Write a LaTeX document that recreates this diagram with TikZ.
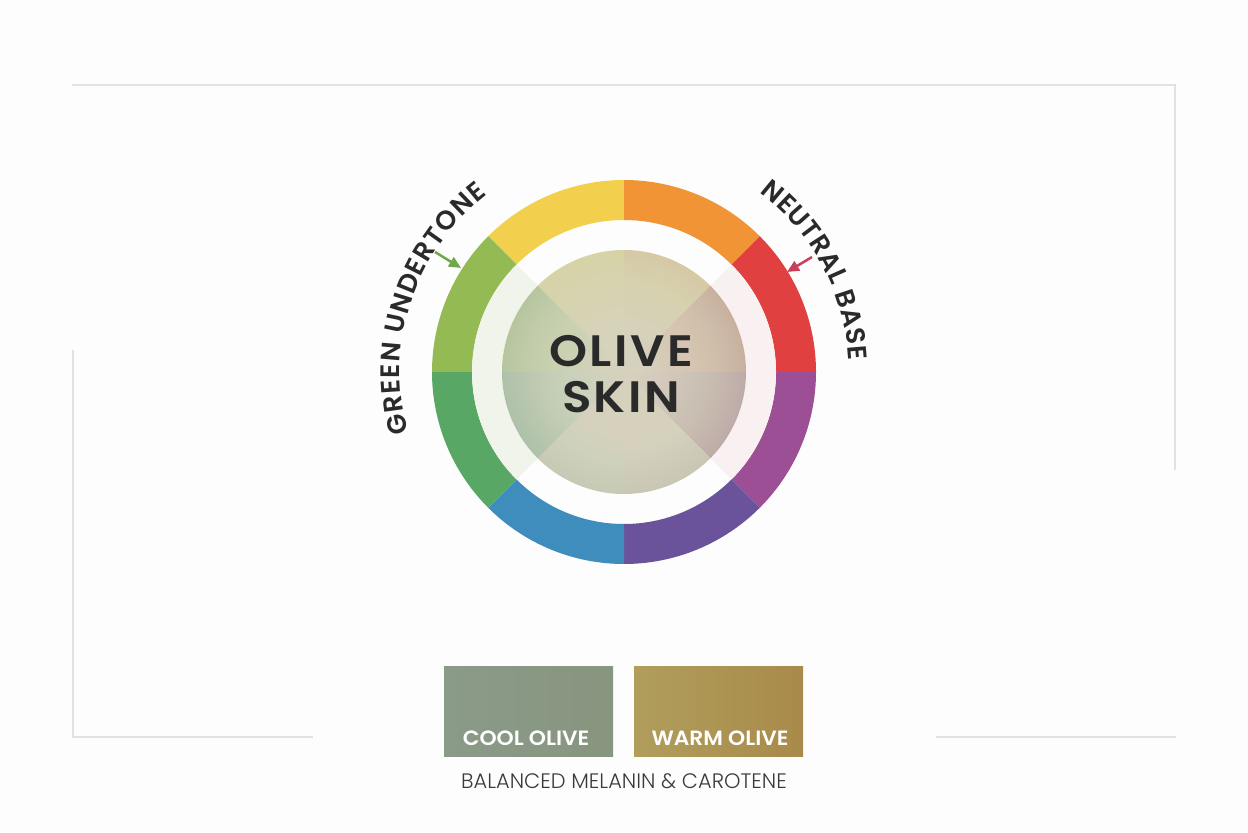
\documentclass[tikz,border=0pt]{standalone}
\usepackage{fontspec}
\setmainfont{Poppins}
\newfontfamily\semib{Poppins SemiBold}
\newfontfamily\semibsp{Poppins SemiBold}[LetterSpace=5]
\newfontfamily\lightf{Poppins Light}
\usetikzlibrary{decorations.text,arrows.meta}
\definecolor{bgc}{HTML}{FDFDFD}
\definecolor{framec}{HTML}{E2E2E2}
\definecolor{segY}{HTML}{F2D04D}
\definecolor{segO}{HTML}{F09435}
\definecolor{segR}{HTML}{E0403F}
\definecolor{segP}{HTML}{9C4F94}
\definecolor{segI}{HTML}{6B539B}
\definecolor{segB}{HTML}{3E8DBD}
\definecolor{segG}{HTML}{58A765}
\definecolor{segYG}{HTML}{93BA53}
\definecolor{ringG}{HTML}{F0F4EB}
\definecolor{ringR}{HTML}{F9F0F1}
\definecolor{inY}{HTML}{D6D3A6}
\definecolor{inO}{HTML}{D6C9A4}
\definecolor{inR}{HTML}{C8B09E}
\definecolor{inP}{HTML}{BCABA8}
\definecolor{inI}{HTML}{C9C6B4}
\definecolor{inB}{HTML}{C6CAB4}
\definecolor{inG}{HTML}{ADC1A9}
\definecolor{inYG}{HTML}{B5C59E}
\definecolor{innerlight}{HTML}{E8E4CF}
\definecolor{textdark}{HTML}{2A2A2A}
\definecolor{captionc}{HTML}{3A3A3A}
\definecolor{arrowG}{HTML}{6FA84A}
\definecolor{arrowR}{HTML}{C8405A}
\definecolor{coolL}{HTML}{8A9B88}
\definecolor{coolR}{HTML}{88957F}
\definecolor{warmL}{HTML}{B09E5C}
\definecolor{warmR}{HTML}{A98A4A}
\newcommand{\curvefont}{\semib\fontsize{20}{21}\selectfont\color{textdark}}
\tikzset{
  frameline/.style={draw=framec, line width=1.5pt},
  olivetxt/.style={font=\semibsp\fontsize{33}{34}\selectfont, text=textdark, inner sep=0pt, xscale=1.1},
  pointer/.style={line width=1.9pt, -{Triangle[length=9pt,width=8pt]}},
  swatch/.style={minimum width=126.75pt, minimum height=67.5pt, inner sep=0pt, draw=none},
  swatchlabel/.style={font=\semib\fontsize{15.5}{16}\selectfont, text=white, inner sep=0pt, xscale=1.055},
  caption/.style={font=\lightf\fontsize{15.7}{16}\selectfont, text=captionc, inner sep=0pt}
}
\begin{document}
\begin{tikzpicture}[x=0.75pt,y=0.75pt]
\useasboundingbox (0,0) rectangle (1248,832);
\fill[bgc] (0,0) rectangle (1248,832);
% frame
\draw[frameline] (72,747) -- (1175,747) -- (1175,362);
\draw[frameline] (73,482) -- (73,95) -- (313,95);
\draw[frameline] (936,95) -- (1176,95);
\begin{scope}[shift={(624,460)}]
  % outer coloured ring
  \foreach \a/\b/\c in {90/135/segY,45/90/segO,0/45/segR,-45/0/segP,-90/-45/segI,-135/-90/segB,180/225/segG,135/180/segYG}
    \fill[\c] (\a:192) arc[start angle=\a,end angle=\b,radius=192] -- (\b:152) arc[start angle=\b,end angle=\a,radius=152] -- cycle;
  % tinted white ring
  \fill[ringG] (135:152) arc[start angle=135,end angle=225,radius=152] -- (225:122) arc[start angle=225,end angle=135,radius=122] -- cycle;
  \fill[ringR] (-45:152) arc[start angle=-45,end angle=45,radius=152] -- (45:122) arc[start angle=45,end angle=-45,radius=122] -- cycle;
  % inner disc sectors
  \foreach \a/\b/\c in {90/135/inY,45/90/inO,0/45/inR,-45/0/inP,-90/-45/inI,-135/-90/inB,180/225/inG,135/180/inYG}
    \fill[\c] (0,0) -- (\a:122) arc[start angle=\a,end angle=\b,radius=122] -- cycle;
  \foreach \r in {120,116,...,4}
    \fill[innerlight, opacity=0.05] (0,0) circle[radius=\r];
  % centre title
  \node[olivetxt, anchor=base] (olive) at (-3,5) {OLIVE};
  \node[olivetxt, anchor=base] (skin) at (-3,-41) {SKIN};
  % curved labels
  \path[decorate, decoration={text along path, text={|\curvefont|GREEN UNDERTONE}, text align=fit to path}]
    (195.6:224) arc[start angle=195.6,end angle=127.7,radius=224];
  \path[decorate, decoration={text along path, text={|\curvefont|NEUTRAL BASE}, text align=fit to path}]
    (53:225) arc[start angle=53,end angle=3,radius=225];
  % pointers
  \coordinate (gtail) at (-189,120);
  \coordinate (ghead) at (-163,104);
  \coordinate (rtail) at (188,115);
  \coordinate (rhead) at (163,100);
  \draw[pointer, arrowG] (gtail) -- (ghead);
  \draw[pointer, arrowR] (rtail) -- (rhead);
\end{scope}
% swatches
\node[swatch, left color=coolL, right color=coolR] (cool) at (528.5,121) {};
\node[swatch, left color=warmL, right color=warmR] (warm) at (718.5,121) {};
\node[swatchlabel] (cooltxt) at (526,94) {COOL OLIVE};
\node[swatchlabel] (warmtxt) at (720,94) {WARM OLIVE};
\node[caption] (cap) at (624,51) {BALANCED MELANIN \& CAROTENE};
\end{tikzpicture}
\end{document}
